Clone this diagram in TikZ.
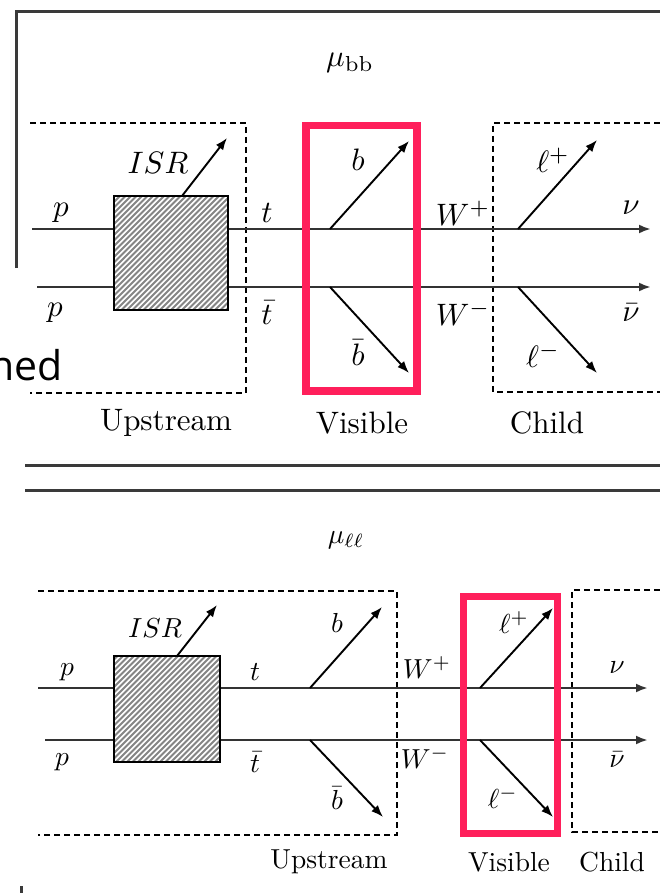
\documentclass[tikz,border=0pt]{standalone}
\usepackage{fontspec}
\newfontfamily\slidefont{Open Sans}
\usetikzlibrary{arrows.meta}

\definecolor{frameline}{HTML}{3A3A3A}
\definecolor{hilite}{RGB}{255,31,91}
\definecolor{hatchgray}{HTML}{858585}
\definecolor{trackgray}{HTML}{333333}

\tikzset{
  labbig/.style={inner sep=0pt, scale=3.1},
  labsmall/.style={inner sep=0pt, scale=2.75},
  track/.style={draw=trackgray, line width=2.4pt},
  trackarrow/.style={track, -{Latex[length=12pt,width=9pt]}},
  decay/.style={draw=black, line width=1.9pt, -{Latex[length=12pt,width=9pt]}},
  region/.style={draw=black, line width=1.8pt, dash pattern=on 6pt off 4pt},
  visbox/.style={draw=hilite, line width=7.5pt},
  rulebar/.style={draw=frameline, line width=3pt},
  blobedge/.style={draw=black, line width=2.2pt},
}

% hatched blob between two corner coordinates (names #1, #2), with box size #3
\newcommand\hatchblob[3]{%
  \fill[white] (#1) rectangle (#2);
  \begin{scope}
    \clip (#1) rectangle (#2);
    \path (#1) coordinate (hbase);
    \foreach \s in {0,5.5,...,260}
      \draw[hatchgray, line width=1.9pt] ([xshift=\s pt-130pt, yshift=-#3 pt]hbase) -- ++(150,-150);
  \end{scope}
  \draw[blobedge] (#1) rectangle (#2);
}

\begin{document}
\begin{tikzpicture}[x=1pt,y=-1pt]
\useasboundingbox (0,0) rectangle (660,893);

% ---------------- outer frame and separators ----------------
\coordinate (frA) at (16,268);
\coordinate (frB) at (16,12);
\coordinate (frC) at (660,12);
\draw[rulebar] (frA) -- (frB) -- (frC);

\coordinate (sepAl) at (25,465);  \coordinate (sepAr) at (660,465);
\coordinate (sepBl) at (25,490);  \coordinate (sepBr) at (660,490);
\draw[rulebar] (sepAl) -- (sepAr);
\draw[rulebar] (sepBl) -- (sepBr);

\coordinate (tickA) at (21,886); \coordinate (tickB) at (21,893);
\draw[frameline, line width=3pt] (tickA) -- (tickB);

\node[anchor=base east, inner sep=0pt, font=\slidefont\fontsize{41}{44}\selectfont] (slidetxt) at (63,380) {ned};

% ---------------- upper panel: mu_bb ----------------
\node[labbig] (mubb) at (350,63) {$\mu_{\mathrm{bb}}$};

% upstream region (open on the left)
\coordinate (upA1) at (30,123);  \coordinate (upA2) at (246,123);
\coordinate (upA3) at (246,393); \coordinate (upA4) at (30,393);
\draw[region] (upA1) -- (upA2) -- (upA3) -- (upA4);

% child region (runs off to the right)
\coordinate (chA1) at (660,123); \coordinate (chA2) at (493,123);
\coordinate (chA3) at (493,392); \coordinate (chA4) at (660,392);
\draw[region] (chA1) -- (chA2) -- (chA3) -- (chA4);

% beams and tracks
\coordinate (inA1) at (32,229);  \coordinate (blA1) at (114,229);
\coordinate (inA2) at (37,287);  \coordinate (blA2) at (114,287);
\coordinate (outA1) at (228,229); \coordinate (endA1) at (651,229);
\coordinate (outA2) at (228,287); \coordinate (endA2) at (651,287);
\draw[track] (inA1) -- (blA1);
\draw[track] (inA2) -- (blA2);
\draw[trackarrow] (outA1) -- (endA1);
\draw[trackarrow] (outA2) -- (endA2);

% hatched blob
\coordinate (blobA1) at (114,196); \coordinate (blobA2) at (228,310);
\hatchblob{blobA1}{blobA2}{114}

% visible highlight
\coordinate (visA1) at (306,125.5); \coordinate (visA2) at (417,391);
\draw[visbox] (visA1) rectangle (visA2);

% decay products
\coordinate (isrA0) at (182,196); \coordinate (isrA1) at (227,138);
\coordinate (bA0) at (330,229);   \coordinate (bA1) at (409,141);
\coordinate (bbA0) at (330,287);  \coordinate (bbA1) at (409,373);
\coordinate (lpA0) at (518,229);  \coordinate (lpA1) at (597,140);
\coordinate (lmA0) at (518,287);  \coordinate (lmA1) at (597,373);
\draw[decay] (isrA0) -- (isrA1);
\draw[decay] (bA0) -- (bA1);
\draw[decay] (bbA0) -- (bbA1);
\draw[decay] (lpA0) -- (lpA1);
\draw[decay] (lmA0) -- (lmA1);

% labels
\node[labbig] (isrA) at (158,163) {$ISR$};
\node[labbig] (pA1) at (61,213) {$p$};
\node[labbig] (pA2) at (55,313) {$p$};
\node[labbig] (tA1) at (267,213) {$t$};
\node[labbig] (tA2) at (267,313) {$\bar{t}$};
\node[labbig] (bA) at (358,160) {$b$};
\node[labbig] (bbA) at (358,353) {$\bar{b}$};
\node[labbig] (wpA) at (463,213) {$W^{+}$};
\node[labbig] (wmA) at (463,313) {$W^{-}$};
\node[labbig] (lpA) at (553,160) {$\ell^{+}$};
\node[labbig] (lmA) at (543,355) {$\ell^{-}$};
\node[labbig] (nuA) at (631,208) {$\nu$};
\node[labbig] (nubA) at (631,313) {$\bar{\nu}$};
\node[labbig] (upA) at (166,423) {Upstream};
\node[labbig] (visA) at (362,423) {Visible};
\node[labbig] (chA) at (547,423) {Child};

% ---------------- lower panel: mu_ll ----------------
\node[labsmall] (mull) at (346,540) {$\mu_{\ell\ell}$};

\coordinate (upB1) at (38,591);  \coordinate (upB2) at (397,591);
\coordinate (upB3) at (397,835); \coordinate (upB4) at (38,835);
\draw[region] (upB1) -- (upB2) -- (upB3) -- (upB4);

\coordinate (chB1) at (660,590); \coordinate (chB2) at (572,590);
\coordinate (chB3) at (572,832); \coordinate (chB4) at (660,832);
\draw[region] (chB1) -- (chB2) -- (chB3) -- (chB4);

\coordinate (inB1) at (38,688);  \coordinate (blB1) at (114,688);
\coordinate (inB2) at (45,740);  \coordinate (blB2) at (114,740);
\coordinate (outB1) at (220,688); \coordinate (endB1) at (648,688);
\coordinate (outB2) at (220,740); \coordinate (endB2) at (648,740);
\draw[track] (inB1) -- (blB1);
\draw[track] (inB2) -- (blB2);
\draw[trackarrow] (outB1) -- (endB1);
\draw[trackarrow] (outB2) -- (endB2);

\coordinate (blobB1) at (114,656); \coordinate (blobB2) at (220,762);
\hatchblob{blobB1}{blobB2}{106}

\coordinate (visB1) at (463.5,596.5); \coordinate (visB2) at (557.5,833.5);
\draw[visbox] (visB1) rectangle (visB2);

\coordinate (isrB0) at (177,656); \coordinate (isrB1) at (217,605);
\coordinate (bB0) at (310,688);   \coordinate (bB1) at (382,607);
\coordinate (bbB0) at (310,740);  \coordinate (bbB1) at (383,817);
\coordinate (lpB0) at (480,688);  \coordinate (lpB1) at (553,608);
\coordinate (lmB0) at (480,740);  \coordinate (lmB1) at (553,817);
\draw[decay] (isrB0) -- (isrB1);
\draw[decay] (bB0) -- (bB1);
\draw[decay] (bbB0) -- (bbB1);
\draw[decay] (lpB0) -- (lpB1);
\draw[decay] (lmB0) -- (lmB1);

\node[labsmall] (isrB) at (155,628) {$ISR$};
\node[labsmall] (pB1) at (67,672) {$p$};
\node[labsmall] (pB2) at (62,762) {$p$};
\node[labsmall] (tB1) at (255,672) {$t$};
\node[labsmall] (tB2) at (255,762) {$\bar{t}$};
\node[labsmall] (bB) at (337,623) {$b$};
\node[labsmall] (bbB) at (337,798) {$\bar{b}$};
\node[labsmall] (wpB) at (427,668) {$W^{+}$};
\node[labsmall] (wmB) at (425,758) {$W^{-}$};
\node[labsmall] (lpB) at (514,623) {$\ell^{+}$};
\node[labsmall] (lmB) at (503,798) {$\ell^{-}$};
\node[labsmall] (nuB) at (617,668) {$\nu$};
\node[labsmall] (nubB) at (617,760) {$\bar{\nu}$};
\node[labsmall] (upB) at (329,862) {Upstream};
\node[labsmall] (visB) at (509,862) {Visible};
\node[labsmall] (chB) at (612,862) {Child};
\end{tikzpicture}
\end{document}
